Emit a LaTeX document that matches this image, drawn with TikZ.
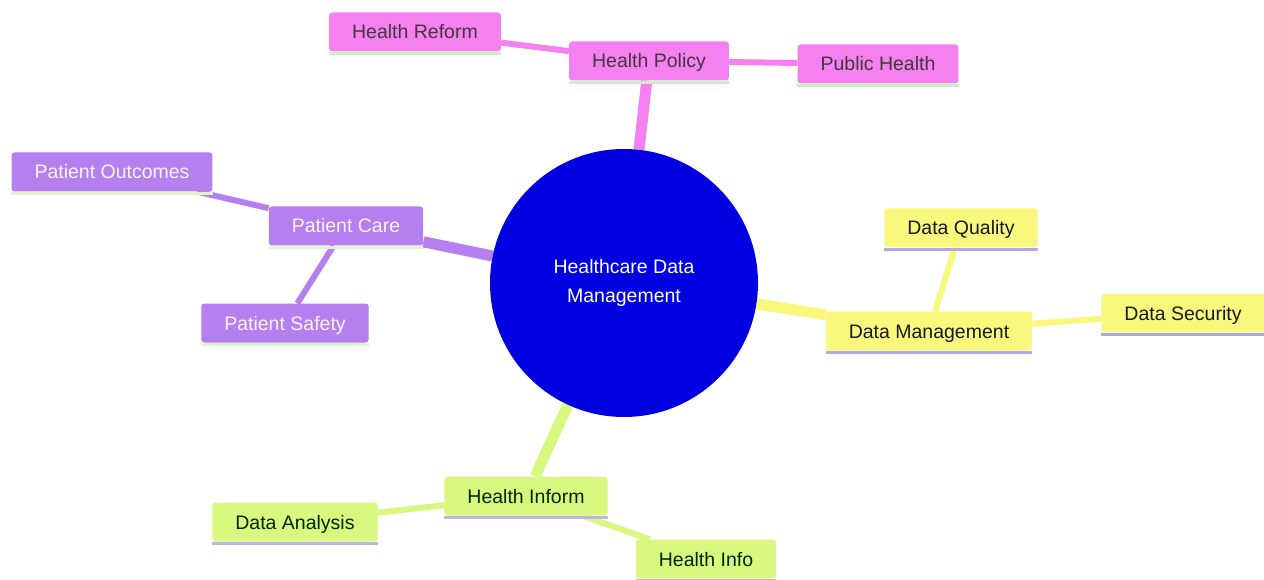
\documentclass[tikz,border=0pt]{standalone}
\usepackage{fontspec}
\setmainfont{Liberation Sans}
\usetikzlibrary{shapes, backgrounds}
\definecolor{hubblue}{HTML}{0000E0}
\definecolor{policypink}{HTML}{F580F0}
\definecolor{carepurple}{HTML}{B67FF0}
\definecolor{datayellow}{HTML}{F8F87C}
\definecolor{informgreen}{HTML}{D8F880}
\definecolor{pinkline}{HTML}{C8F0C0}
\definecolor{purpleline}{HTML}{E2F2CC}
\definecolor{yellowline}{HTML}{B0A8E6}
\definecolor{greenline}{HTML}{BCB4E8}
\tikzstyle{leaf} = [rectangle, rounded corners=3pt, inner xsep=23pt, minimum height=39pt, text height=14pt, text depth=0pt, text centered, font=\fontsize{19.5}{23}\selectfont]
\tikzstyle{pinkbox} = [leaf, fill=policypink, text=black!85!magenta]
\tikzstyle{purplebox} = [leaf, fill=carepurple, text=white!96!violet]
\tikzstyle{yellowbox} = [leaf, fill=datayellow, text=black!90]
\tikzstyle{greenbox} = [leaf, fill=informgreen, text=black!85!green]
\tikzstyle{hub} = [circle, minimum size=268pt, fill=hubblue, text=white, align=center, font=\fontsize{19.5}{29}\selectfont]
\tikzstyle{branch} = [line width=11pt]
\tikzstyle{twig} = [line width=6pt]
\newcommand{\boxline}[2]{\draw[line width=3pt, #2] ([yshift=-1.5pt]#1.south west) -- ([yshift=-1.5pt]#1.south east);}

\begin{document}
\begin{tikzpicture}[x=1pt, y=-1pt]
    \useasboundingbox (0,0) rectangle (1264,580);

    % centre
    \node (hub) [hub] at (624,283) {Healthcare Data\\Management};

    % policy branch
    \node (policy) [pinkbox] at (649,61) {Health Policy};
    \node (reform) [pinkbox] at (415,32) {Health Reform};
    \node (public) [pinkbox] at (878,64) {Public Health};

    % patient care branch
    \node (care) [purplebox] at (346,226) {Patient Care};
    \node (outcomes) [purplebox] at (112,172) {Patient Outcomes};
    \node (safety) [purplebox] at (285,323) {Patient Safety};

    % data management branch
    \node (manage) [yellowbox] at (929,331) {Data Management};
    \node (quality) [yellowbox] at (961,228) {Data Quality};
    \node (security) [yellowbox] at (1183,313) {Data Security};

    % health inform branch
    \node (inform) [greenbox] at (526,496) {Health Inform};
    \node (analysis) [greenbox] at (295,522) {Data Analysis};
    \node (info) [greenbox] at (706,559) {Health Info};

    \foreach \n in {policy, reform, public} {\boxline{\n}{pinkline}}
    \foreach \n in {care, outcomes, safety} {\boxline{\n}{purpleline}}
    \foreach \n in {manage, quality, security} {\boxline{\n}{yellowline}}
    \foreach \n in {inform, analysis, info} {\boxline{\n}{greenline}}

    \begin{scope}[on background layer]
    \fill [white] (0,0) rectangle (1264,580);
    \draw [branch, policypink] (hub) -- (policy);
    \draw [twig, policypink] (policy) -- (reform);
    \draw [twig, policypink] (policy) -- (public);
    \draw [branch, carepurple] (hub) -- (care);
    \draw [twig, carepurple] (care) -- (outcomes);
    \draw [twig, carepurple] (care) -- (safety);
    \draw [branch, datayellow] (hub) -- (manage);
    \draw [twig, datayellow] (manage) -- (quality);
    \draw [twig, datayellow] (manage) -- (security);
    \draw [branch, informgreen] (hub) -- (inform);
    \draw [twig, informgreen] (inform) -- (analysis);
    \draw [twig, informgreen] (inform) -- (info);
    \end{scope}
\end{tikzpicture}
\end{document}
